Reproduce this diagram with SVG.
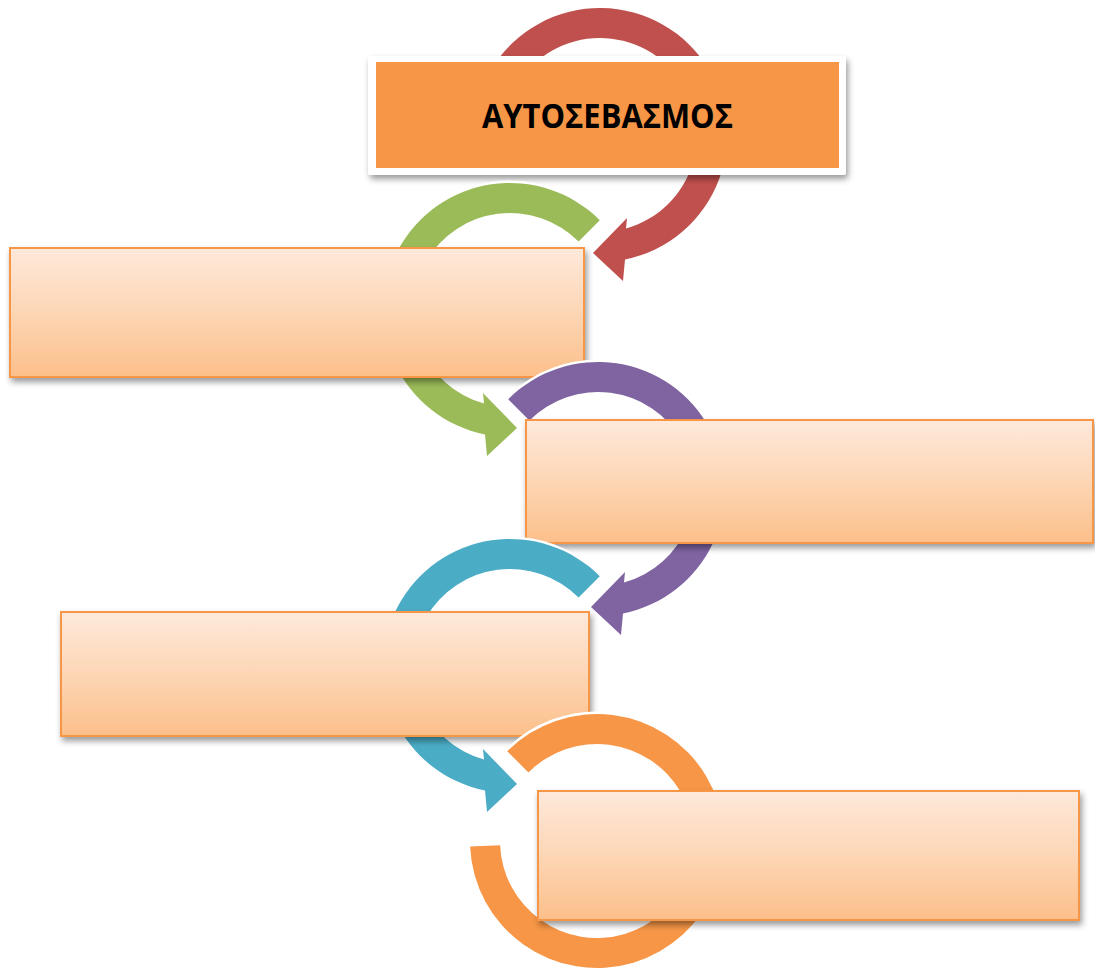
<svg xmlns="http://www.w3.org/2000/svg" width="1095" height="969" viewBox="0 0 1095 969">
  <style>
    .arc { stroke: #FFFFFF; stroke-width: 5; paint-order: stroke; stroke-linejoin: miter; }
    .box { fill: url(#boxGrad); stroke: #F79646; stroke-width: 2; filter: url(#shadow); }
    .title { font-family: "Open Sans", "DejaVu Sans", sans-serif; font-weight: bold; font-size: 34px; fill: #000000; }
  </style>
  <defs>
    <linearGradient id="boxGrad" x1="0" y1="0" x2="0" y2="1">
      <stop offset="0" stop-color="#FEE9DB"/>
      <stop offset="0.5" stop-color="#FDD6B5"/>
      <stop offset="1" stop-color="#FCBF8A"/>
    </linearGradient>
    <filter id="shadow" x="-5%" y="-10%" width="112%" height="130%">
      <feDropShadow dx="2" dy="4" stdDeviation="3" flood-color="#000000" flood-opacity="0.4"/>
    </filter>
    <path id="cw" d="M -89.80 -89.80 A 127 127 0 1 1 25 124.51 L 23 146 L -7 118 L 27 83 L 26 93.45 A 97 97 0 1 0 -68.59 -68.59 Z"/>
  </defs>
  <rect width="1095" height="969" fill="#FFFFFF"/>

  <g id="connectors">
    <g id="arrow-red"><path class="arc" fill="#C0504D" transform="translate(600,135)" d="M -115.10 -53.67 A 127 127 0 1 1 25 124.51 L 23 146 L -7 118 L 27 83 L 26 93.45 A 97 97 0 1 0 -87.91 -40.99 Z"/></g>
  </g>

  <g id="node-title">
    <rect x="368" y="56" width="478" height="119" rx="3" fill="#FFFFFF" filter="url(#shadow)"/>
    <rect x="376" y="62" width="463" height="106" fill="#F79646"/>
    <text class="title" x="607.5" y="128" text-anchor="middle" textLength="251" lengthAdjust="spacingAndGlyphs">ΑΥΤΟΣΕΒΑΣΜΟΣ</text>
  </g>

  <g id="arrow-green"><use href="#cw" class="arc" fill="#9BBB59" transform="translate(510,310) scale(-1,1)"/></g>

  <g id="node-2">
    <rect class="box" x="10" y="248" width="574" height="129"/>
  </g>

  <g id="arrow-purple"><use href="#cw" class="arc" fill="#8064A2" transform="translate(598,489)"/></g>

  <g id="node-3">
    <rect class="box" x="526" y="420" width="567" height="123"/>
  </g>

  <g id="arrow-cyan"><use href="#cw" class="arc" fill="#4BACC6" transform="translate(510,666) scale(-1,1)"/></g>

  <g id="node-4">
    <rect class="box" x="61" y="612" width="528" height="124"/>
  </g>

  <g id="arrow-orange">
    <path class="arc" fill="#F79646" transform="translate(597,841)" d="M -89.80 -89.80 A 127 127 0 1 1 -126.88 5.54 L -96.91 4.23 A 97 97 0 1 0 -68.59 -68.59 Z"/>
  </g>

  <g id="node-5">
    <rect class="box" x="538" y="791" width="541" height="129"/>
  </g>
</svg>
